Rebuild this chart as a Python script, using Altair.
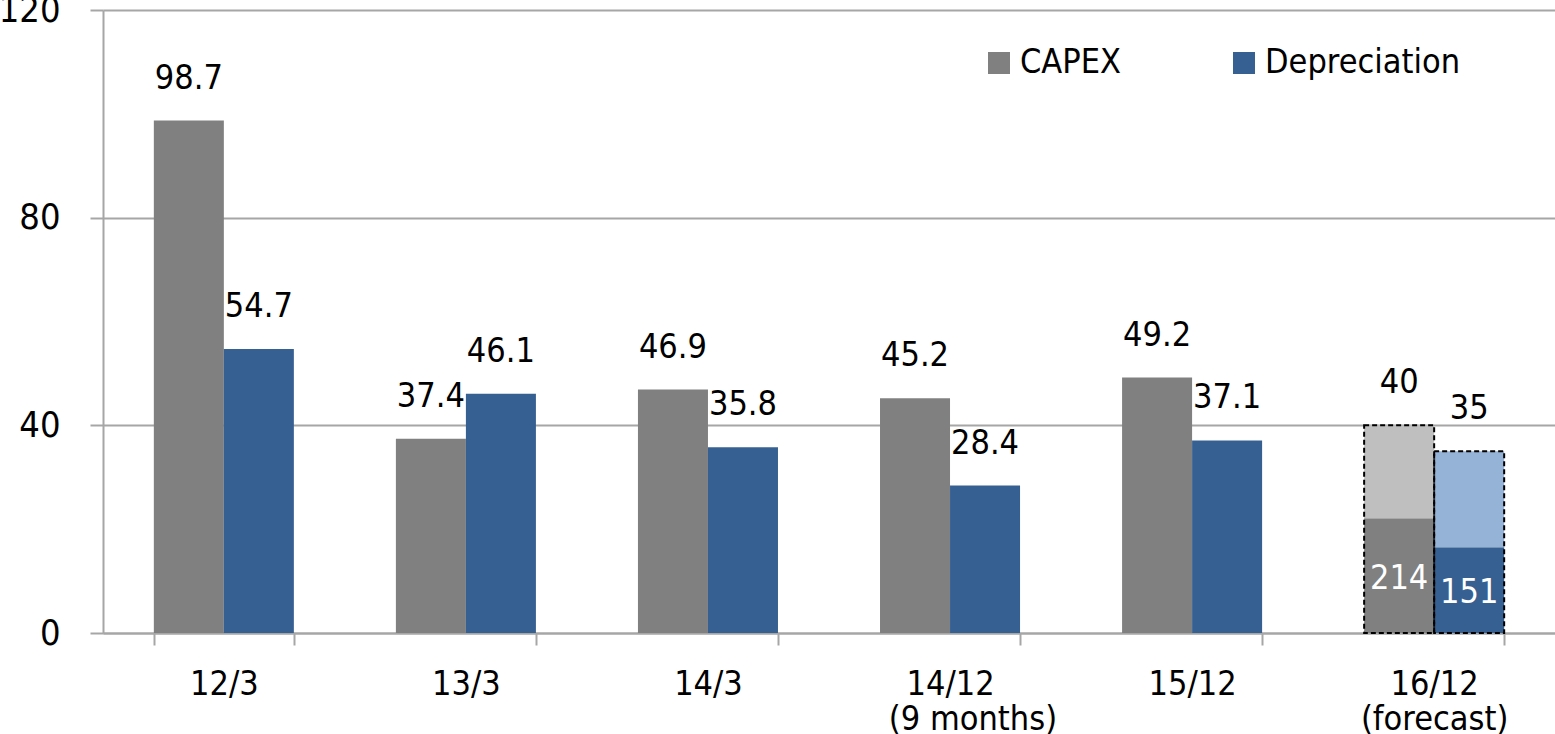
import altair as alt
import pandas as pd

categories = ["12/3", "13/3", "14/3", "14/12", "15/12", "16/12"]
subtitles = ["", "", "", "(9 months)", "", "(forecast)"]
series = ["CAPEX", "Depreciation"]
capex = [98.7, 37.4, 46.9, 45.2, 49.2, 40]
depreciation = [54.7, 46.1, 35.8, 28.4, 37.1, 35]
capex_labels = ["98.7", "37.4", "46.9", "45.2", "49.2", "40"]
depr_labels = ["54.7", "46.1", "35.8", "28.4", "37.1", "35"]
forecast_actual = [22.1, 16.5]          # solid part of forecast bars (CAPEX, Depreciation)
forecast_actual_labels = ["214", "151"]
solid_colors = ["#808080", "#376092"]
light_colors = ["#bfbfbf", "#95b3d7"]

FONT = "DejaVu Sans Condensed"
GRAY = "#a6a6a6"
INDENT = "\u2800\u2800"   # blank glyphs (not trimmed) to nudge "(9 months)" right

main_rows, light_rows, top_rows, inner_rows, outline_rows = [], [], [], [], []
for i, c in enumerate(categories):
    forecast = subtitles[i] == "(forecast)"
    for j, s in enumerate(series):
        total = capex[i] if j == 0 else depreciation[i]
        lab = capex_labels[i] if j == 0 else depr_labels[i]
        solid = forecast_actual[j] if forecast else total
        main_rows.append({"cat": c, "series": s, "val": solid})
        top_rows.append({"cat": c, "series": s, "total": total, "label": lab})
        if forecast:
            light_rows.append({"cat": c, "series": s, "base": solid, "total": total,
                               "light": light_colors[j]})
            inner_rows.append({"cat": c, "series": s, "mid": solid / 2,
                               "label": forecast_actual_labels[j]})
            outline_rows.append({"cat": c, "series": s, "total": total})

# label expression for two-line category labels
parts = []
for c, sub in zip(categories, subtitles):
    if sub:
        lead = INDENT if sub == "(9 months)" else ""
        parts.append(f"datum.value == '{c}' ? ['{c}', '{lead}{sub}'] : ")
label_expr = "".join(parts) + "datum.value"

x_enc = alt.X("cat:N", sort=categories,
              scale=alt.Scale(domain=categories, paddingInner=0.4215, paddingOuter=0.21),
              axis=alt.Axis(title=None, labelAngle=0, labelFontSize=34, labelColor="black",
                            labelLineHeight=35, labelPadding=22, labelExpr=label_expr,
                            labelLimit=400,
                            domainColor=GRAY, domainWidth=2, tickColor=GRAY, tickWidth=2,
                            tickSize=12, tickBand="extent", grid=False))
xo_enc = alt.XOffset("series:N", sort=series,
                     scale=alt.Scale(domain=series, paddingInner=0, paddingOuter=0))
y_scale = alt.Scale(domain=[0, 120], nice=False)

bars = alt.Chart(pd.DataFrame(main_rows)).mark_bar().encode(
    x=x_enc, xOffset=xo_enc,
    y=alt.Y("val:Q", scale=y_scale, stack=None,
            axis=alt.Axis(title=None, values=[0, 40, 80, 120], labelFontSize=36,
                          labelColor="black", labelPadding=30, grid=True,
                          gridColor=GRAY, gridWidth=2, domainColor=GRAY, domainWidth=2,
                          tickColor=GRAY, tickWidth=2, tickSize=13)),
    color=alt.Color("series:N", scale=alt.Scale(domain=series, range=solid_colors),
                    legend=alt.Legend(title=None, orient="none", legendX=879, legendY=36,
                                      direction="horizontal", symbolType="square",
                                      symbolSize=484, symbolStrokeWidth=0, symbolOpacity=1,
                                      labelFontSize=34, labelOffset=4, labelColor="black",
                                      labelLimit=500, columnPadding=105, padding=0)),
)

light = alt.Chart(pd.DataFrame(light_rows)).mark_bar().encode(
    x=alt.X("cat:N", sort=categories), xOffset=alt.XOffset("series:N", sort=series),
    y=alt.Y("base:Q", stack=None), y2="total:Q",
    fill=alt.Fill("light:N", scale=None),
)

outline = alt.Chart(pd.DataFrame(outline_rows)).mark_bar(
    fillOpacity=0, stroke="black", strokeWidth=2, strokeDash=[5, 3]
).encode(
    x=alt.X("cat:N", sort=categories), xOffset=alt.XOffset("series:N", sort=series),
    y=alt.Y("total:Q", stack=None),
)

top_text = alt.Chart(pd.DataFrame(top_rows)).mark_text(
    fontSize=34, baseline="middle", dy=-42, color="black"
).encode(
    x=alt.X("cat:N", sort=categories), xOffset=alt.XOffset("series:N", sort=series),
    y=alt.Y("total:Q", stack=None), text="label:N",
)

inner_text = alt.Chart(pd.DataFrame(inner_rows)).mark_text(
    fontSize=34, baseline="middle", dy=3, color="white"
).encode(
    x=alt.X("cat:N", sort=categories), xOffset=alt.XOffset("series:N", sort=series),
    y=alt.Y("mid:Q", stack=None), text="label:N",
)

chart = alt.layer(bars, light, outline, top_text, inner_text).properties(
    width=1452, height=623,
    padding={"left": 103, "top": 10, "right": 0, "bottom": 101},
    autosize=alt.AutoSizeParams(type="none"),
).configure(font=FONT).configure_view(stroke=None)

chart.save("out.html", embed_options={"renderer": "svg", "actions": False})
